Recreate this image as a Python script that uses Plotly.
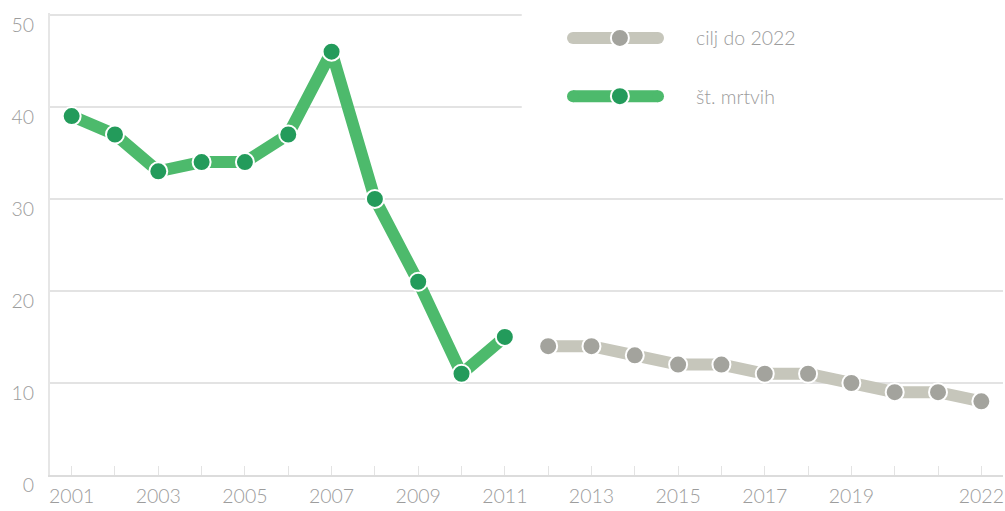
import plotly.graph_objects as go

years_actual = [2001, 2002, 2003, 2004, 2005, 2006, 2007, 2008, 2009, 2010, 2011]
deaths = [39, 37, 33, 34, 34, 37, 46, 30, 21, 11, 15]

years_target = [2012, 2013, 2014, 2015, 2016, 2017, 2018, 2019, 2020, 2021, 2022]
target = [14, 14, 13, 12, 12, 11, 11, 10, 9, 9, 8]

x_tick_labels = [2001, 2003, 2005, 2007, 2009, 2011, 2013, 2015, 2017, 2019, 2022]
y_tick_labels = [0, 10, 20, 30, 40, 50]

series_names = ["cilj do 2022", "št. mrtvih"]

GREEN_LINE = "#4dba6c"
GREEN_MARK = "#239b5b"
GRAY_LINE = "#c6c6bb"
GRAY_MARK = "#a3a39d"
TEXT = "#9c9c9c"
GRID = "#e3e3e3"
FONT = "Lato, Open Sans, sans-serif"
FSIZE = 19.5

fig = go.Figure()
fig.add_trace(go.Scatter(
    x=years_target, y=target, mode="lines+markers", name=series_names[0],
    line=dict(color=GRAY_LINE, width=12),
    marker=dict(color=GRAY_MARK, size=18, line=dict(color="white", width=2)),
    showlegend=False))
fig.add_trace(go.Scatter(
    x=years_actual, y=deaths, mode="lines+markers", name=series_names[1],
    line=dict(color=GREEN_LINE, width=12),
    marker=dict(color=GREEN_MARK, size=18, line=dict(color="white", width=2)),
    showlegend=False))

# white block behind legend (covers gridlines on top right)
shapes = [dict(type="rect", xref="paper", yref="paper", x0=0.495, x1=1.01, y0=0.70, y1=1.05,
               fillcolor="white", line=dict(width=0), layer="above")]
annotations = []
legend_items = [(series_names[0], GRAY_LINE, GRAY_MARK, 0.946),
                (series_names[1], GREEN_LINE, GREEN_MARK, 0.820)]
lx0, lx1, lm, lt = 0.5488, 0.6380, 0.598, 0.676
for name, lc, mc, ly in legend_items:
    shapes.append(dict(type="line", xref="paper", yref="paper", x0=lx0, x1=lx1, y0=ly, y1=ly,
                       line=dict(color=lc, width=12), layer="above"))
    for ex in (lx0, lx1):
        shapes.append(dict(type="circle", xref="paper", yref="paper", xsizemode="pixel",
                           ysizemode="pixel", xanchor=ex, yanchor=ly, x0=-6, x1=6, y0=-6, y1=6,
                           fillcolor=lc, line=dict(width=0), layer="above"))
    shapes.append(dict(type="circle", xref="paper", yref="paper", xsizemode="pixel",
                       ysizemode="pixel", xanchor=lm, yanchor=ly, x0=-9, x1=9, y0=-9, y1=9,
                       fillcolor=mc, line=dict(color="white", width=2), layer="above"))
    annotations.append(dict(xref="paper", yref="paper", x=lt, y=ly, text=name, showarrow=False,
                            xanchor="left", yanchor="middle",
                            font=dict(family=FONT, size=FSIZE, color=TEXT, weight=300)))

fig.update_layout(
    width=1005, height=511,
    margin=dict(l=50, r=2, t=13, b=36, autoexpand=False),
    paper_bgcolor="white", plot_bgcolor="white",
    font=dict(family=FONT, size=FSIZE, color=TEXT, weight=300),
    shapes=shapes, annotations=annotations,
    xaxis=dict(range=[2000.5, 2022.5], tickmode="array", tickvals=x_tick_labels,
               ticktext=[str(v) for v in x_tick_labels],
               ticks="inside", ticklen=9, tickcolor=GRID, tickwidth=1,
               minor=dict(tickmode="linear", tick0=2001, dtick=1, ticks="inside", ticklen=9,
                          tickcolor=GRID, tickwidth=1, showgrid=False),
               showgrid=False, zeroline=False, showline=True, linecolor="#dcdcdc", linewidth=2,
               tickfont=dict(family=FONT, size=FSIZE, color=TEXT, weight=300),
               ticklabelstandoff=3, automargin=False),
    yaxis=dict(range=[0, 50.2], tickmode="array", tickvals=y_tick_labels,
               showgrid=True, gridcolor=GRID, gridwidth=2, zeroline=False,
               showline=True, linecolor="#e6e6e6", linewidth=2, ticks="",
               tickfont=dict(family=FONT, size=FSIZE, color=TEXT, weight=300),
               ticklabelshift=10, ticklabelstandoff=10, automargin=False),
)

fig.write_html("out.html", config={"displayModeBar": False},
               post_script="document.body.style.margin='0px';document.body.style.padding='0px';")
